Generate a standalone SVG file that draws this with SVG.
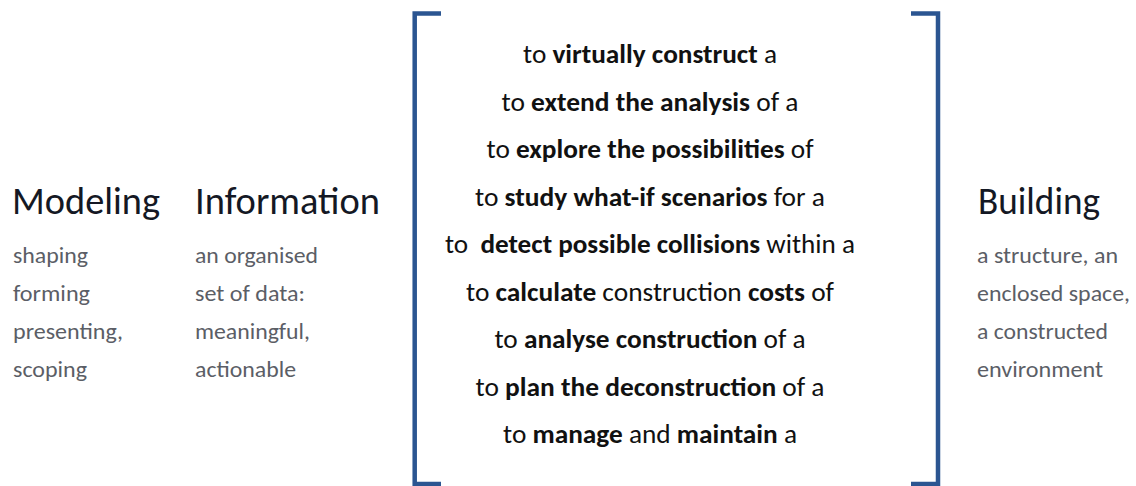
<svg xmlns="http://www.w3.org/2000/svg" width="1136" height="486" viewBox="0 0 1136 486">
<style>
  text { font-family: Carlito, Lato, "Open Sans", sans-serif; }
  .head { font-size: 38px; fill: #141824; }
  .sub { font-size: 23px; fill: #5b5e66; }
  .line { font-size: 27px; fill: #111111; text-anchor: middle; }
  .b { font-weight: bold; }
  .bracket { fill: none; stroke: #2b5591; stroke-width: 4.5; stroke-linejoin: miter; stroke-linecap: butt; }
</style>
<rect width="1136" height="486" fill="#ffffff"/>
<g id="connectors"/>
<g id="node-modeling">
  <text class="head" x="12" y="214" textLength="148" lengthAdjust="spacingAndGlyphs">Modeling</text>
  <text class="sub" x="13" y="263" textLength="75" lengthAdjust="spacingAndGlyphs">shaping</text>
  <text class="sub" x="13" y="301" textLength="77" lengthAdjust="spacingAndGlyphs">forming</text>
  <text class="sub" x="13" y="339" textLength="110" lengthAdjust="spacingAndGlyphs">presenting,</text>
  <text class="sub" x="13" y="377" textLength="74" lengthAdjust="spacingAndGlyphs">scoping</text>
</g>
<g id="node-information">
  <text class="head" x="195" y="214" textLength="185" lengthAdjust="spacingAndGlyphs">Information</text>
  <text class="sub" x="195" y="263" textLength="123" lengthAdjust="spacingAndGlyphs">an organised</text>
  <text class="sub" x="195" y="301" textLength="110" lengthAdjust="spacingAndGlyphs">set of data:</text>
  <text class="sub" x="195" y="339" textLength="115" lengthAdjust="spacingAndGlyphs">meaningful,</text>
  <text class="sub" x="195" y="377" textLength="101" lengthAdjust="spacingAndGlyphs">actionable</text>
</g>
<g id="node-uses">
  <path class="bracket" d="M441,13.5 H414.7 V484 H441"/>
  <path class="bracket" d="M911,13.5 H938 V484 H911"/>
  <text class="line" x="650" y="63" textLength="254" lengthAdjust="spacingAndGlyphs">to <tspan class="b">virtually construct</tspan> a</text>
  <text class="line" x="650" y="110.5" textLength="297" lengthAdjust="spacingAndGlyphs">to <tspan class="b">extend the analysis</tspan> of a</text>
  <text class="line" x="650" y="158" textLength="327" lengthAdjust="spacingAndGlyphs">to <tspan class="b">explore the possibilities</tspan> of</text>
  <text class="line" x="650" y="205.5" textLength="350" lengthAdjust="spacingAndGlyphs">to <tspan class="b">study what-if scenarios</tspan> for a</text>
  <text class="line" x="650" y="253" textLength="410" lengthAdjust="spacingAndGlyphs" xml:space="preserve">to  <tspan class="b">detect possible collisions</tspan> within a</text>
  <text class="line" x="650" y="300.5" textLength="368" lengthAdjust="spacingAndGlyphs">to <tspan class="b">calculate</tspan> construction <tspan class="b">costs</tspan> of</text>
  <text class="line" x="650" y="348" textLength="311" lengthAdjust="spacingAndGlyphs">to <tspan class="b">analyse construction</tspan> of a</text>
  <text class="line" x="650" y="395.5" textLength="349" lengthAdjust="spacingAndGlyphs">to <tspan class="b">plan the deconstruction</tspan> of a</text>
  <text class="line" x="650" y="443" textLength="294" lengthAdjust="spacingAndGlyphs">to <tspan class="b">manage</tspan> and <tspan class="b">maintain</tspan> a</text>
</g>
<g id="node-building">
  <text class="head" x="978" y="214" textLength="122" lengthAdjust="spacingAndGlyphs">Building</text>
  <text class="sub" x="977" y="263" textLength="141" lengthAdjust="spacingAndGlyphs">a structure, an</text>
  <text class="sub" x="977" y="301" textLength="153" lengthAdjust="spacingAndGlyphs">enclosed space,</text>
  <text class="sub" x="977" y="339" textLength="131" lengthAdjust="spacingAndGlyphs">a constructed</text>
  <text class="sub" x="977" y="377" textLength="126" lengthAdjust="spacingAndGlyphs">environment</text>
</g>
</svg>
